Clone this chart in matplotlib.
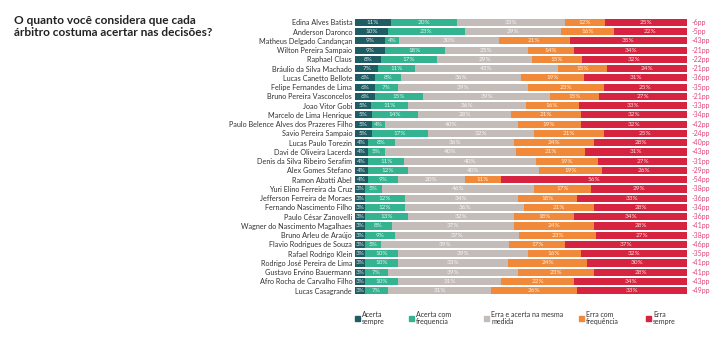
import matplotlib.pyplot as plt
import matplotlib.patches as patches
import numpy as np

plt.rcParams['font.family'] = ['Lato', 'DejaVu Sans']

arbitros = [
    'Edina Alves Batista', 'Anderson Daronco', 'Matheus Delgado Candançan',
    'Wilton Pereira Sampaio', 'Raphael Claus', 'Bráulio da Silva Machado',
    'Lucas Canetto Bellote', 'Felipe Fernandes de Lima', 'Bruno Pereira Vasconcelos',
    'Joao Vitor Gobi', 'Marcelo de Lima Henrique', 'Paulo Belence Alves dos Prazeres Filho',
    'Savio Pereira Sampaio', 'Lucas Paulo Torezin', 'Davi de Oliveira Lacerda',
    'Denis da Silva Ribeiro Serafim', 'Alex Gomes Stefano', 'Ramon Abatti Abel',
    'Yuri Elino Ferreira da Cruz', 'Jefferson Ferreira de Moraes', 'Fernando Nascimento Filho',
    'Paulo César Zanovelli', 'Wagner do Nascimento Magalhaes', 'Bruno Arleu de Araújo',
    'Flavio Rodrigues de Souza', 'Rafael Rodrigo Klein', 'Rodrigo José Pereira de Lima',
    'Gustavo Ervino Bauermann', 'Afro Rocha de Carvalho Filho', 'Lucas Casagrande',
]

acerta_sempre = [11, 10, 9, 9, 8, 7, 6, 6, 6, 5, 5, 5, 5, 4, 4, 4, 4, 4,
                 3, 3, 3, 3, 3, 3, 3, 3, 3, 3, 3, 3]
acerta_freq = [20, 23, 4, 18, 17, 11, 8, 7, 15, 11, 14, 4, 17, 8, 5, 11, 12, 9,
               5, 12, 12, 13, 8, 9, 5, 10, 10, 7, 10, 7]
mesma_medida = [33, 29, 30, 25, 29, 43, 36, 39, 39, 36, 28, 40, 32, 36, 40, 40, 40, 20,
                46, 34, 36, 32, 37, 37, 39, 39, 33, 39, 31, 31]
erra_freq = [12, 16, 21, 14, 15, 15, 19, 23, 15, 16, 21, 19, 21, 24, 21, 19, 19, 11,
             17, 18, 21, 18, 24, 23, 17, 16, 24, 23, 22, 26]
erra_sempre = [25, 22, 35, 34, 32, 24, 31, 25, 27, 33, 32, 32, 25, 28, 31, 27, 26, 56,
               29, 33, 28, 34, 28, 27, 37, 32, 30, 28, 34, 33]
saldo = [-6, -5, -43, -21, -22, -21, -36, -35, -21, -33, -34, -42, -24, -40, -43, -31, -29, -54,
         -38, -36, -34, -36, -41, -38, -46, -35, -41, -41, -43, -49]

categorias = ['Acerta\nsempre', 'Acerta com\nfrequencia', 'Erra e acerta na mesma\nmedida',
              'Erra com\nfrequência', 'Erra\nsempre']
cores = ['#1e5d64', '#33b38f', '#c3bcb9', '#f08a3a', '#d6233f']

series = np.array([acerta_sempre, acerta_freq, mesma_medida, erra_freq, erra_sempre], dtype=float)
total = series.sum(axis=0)
y = np.arange(len(arbitros))

fig = plt.figure(figsize=(7.24, 3.37), dpi=100)
ax = fig.add_axes([0.4903, 0.1237, 0.4586, 0.8237])

esquerda = np.zeros(len(arbitros))
for valores, cor in zip(series, cores):
    largura = valores / total * 100
    ax.barh(y, largura, left=esquerda, height=0.78, color=cor)
    for i in range(len(arbitros)):
        ax.text(esquerda[i] + largura[i] / 2, y[i], f'{int(valores[i])}%',
                ha='center', va='center', fontsize=4.6, color='white', alpha=0.85)
    esquerda += largura

for i, s in enumerate(saldo):
    ax.text(101.5, y[i], f'{s}pp', ha='left', va='center', fontsize=5, color='#e0457a')

ax.set_xlim(0, 100)
ax.set_ylim(len(arbitros) - 0.5, -0.5)
ax.set_yticks(y)
ax.set_yticklabels(arbitros, fontsize=5.2, color='#333333')
ax.tick_params(axis='y', length=0, pad=2)
ax.set_xticks([])
for lado in ax.spines.values():
    lado.set_visible(False)

fig.text(0.019, 0.955, 'O quanto você considera que cada\nárbitro costuma acertar nas decisões?',
         fontsize=8.6, fontweight='bold', color='#222222', va='top', ha='left', linespacing=1.1)

# legenda manual
pos_x = [355, 409, 484, 579, 646]
for px, cor, nome in zip(pos_x, cores, categorias):
    fig.add_artist(patches.Rectangle((px / 724, 1 - 321 / 337), 5 / 724, 5 / 337,
                                     transform=fig.transFigure, color=cor))
    fig.text((px + 7) / 724, 1 - 311 / 337, nome, fontsize=5, color='#333333',
             va='top', ha='left', linespacing=1.0)

fig.savefig('out.png', dpi=100)
